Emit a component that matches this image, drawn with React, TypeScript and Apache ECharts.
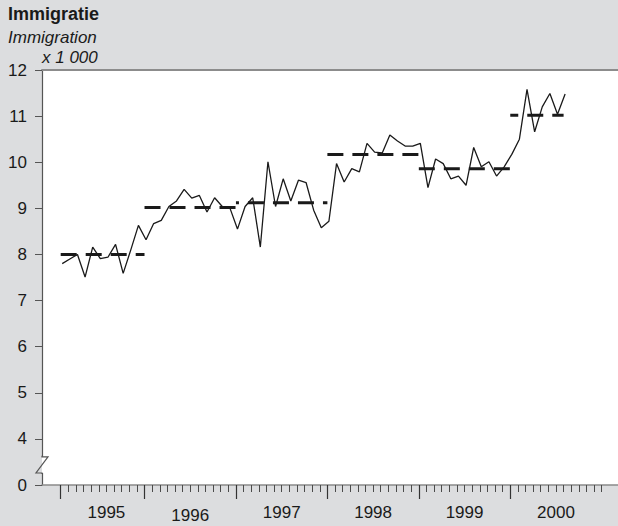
import React, { useEffect, useRef } from 'react';
import * as echarts from 'echarts';

const TITLE = 'Immigratie';
const SUBTITLE = 'Immigration';
const UNIT = 'x 1 000';

const YEARS = ['1995', '1996', '1997', '1998', '1999', '2000'];

// monthly immigration (x 1 000), Jan 1995 .. Jul 2000
const MONTHLY = [
  7.80, 7.90, 8.00, 7.51, 8.16, 7.91, 7.94, 8.22, 7.59, 8.10, 8.63, 8.32,
  8.67, 8.74, 9.04, 9.16, 9.41, 9.22, 9.28, 8.92, 9.23, 9.04, 9.01, 8.55,
  9.04, 9.23, 8.16, 10.01, 9.04, 9.64, 9.16, 9.61, 9.56, 8.96, 8.58, 8.72,
  9.97, 9.57, 9.86, 9.79, 10.41, 10.22, 10.20, 10.59, 10.46, 10.35, 10.35, 10.41,
  9.45, 10.07, 9.97, 9.64, 9.70, 9.50, 10.32, 9.90, 10.01, 9.70, 9.90, 10.17,
  10.50, 11.58, 10.66, 11.20, 11.49, 11.04, 11.48,
];

// yearly averages
const YEAR_MEANS = [8.0, 9.02, 9.12, 10.17, 9.86, 11.02];

// x axis in month units
const YEAR_TICKS = [0, 11, 23, 35, 47, 59];
const YEAR_LABEL_POS = [6, 17, 29, 41, 53, 65];
const LAST_MONTH = 66;
const MONTH_TICKS = Array.from({ length: 72 }, (_, i) => i);

// y axis (broken: the lowest tick stands for 0)
const Y_TICK_VALUES = [3, 4, 5, 6, 7, 8, 9, 10, 11, 12];
const Y_TICK_LABELS = ['0', '4', '5', '6', '7', '8', '9', '10', '11', '12'];

// layout / style
const W = 618;
const H = 526;
const GRID_LEFT = 42;
const GRID_TOP = 70;
const GRID_BOTTOM = 41;
const X_MIN = -2.454;
const X_MAX = 73.14;
const Y_MIN = 3;
const Y_MAX = 12;
const POINT_OFFSET = 0.2;
const DASH_OFFSETS = [0, 0, 13, 0, 0, 8];
const FONT = '"Liberation Sans", Arial, Helvetica, sans-serif';
const BG = '#dcdddf';
const INK = '#1a1a1a';
const AXIS = '#555555';

export default function App() {
  const ref = useRef<HTMLDivElement>(null);

  useEffect(() => {
    document.body.style.margin = '0';
    const chart = echarts.init(ref.current!, null, { renderer: 'svg' });

    const plotBottom = H - GRID_BOTTOM;
    const yPix = (v: number) => GRID_TOP + ((Y_MAX - v) / (Y_MAX - Y_MIN)) * (plotBottom - GRID_TOP);
    const bLow = yPix(3.26);
    const bHigh = yPix(3.61);

    const meanSeries = YEAR_MEANS.map((m, i) => ({
      type: 'line',
      xAxisIndex: 0,
      yAxisIndex: 0,
      symbol: 'none',
      silent: true,
      data: [
        [YEAR_TICKS[i], m],
        [i + 1 < YEAR_TICKS.length ? YEAR_TICKS[i + 1] : LAST_MONTH, m],
      ],
      lineStyle: { color: INK, width: 3, type: [16, 9], dashOffset: DASH_OFFSETS[i] },
      z: 3,
    }));

    const baseX = {
      type: 'value',
      min: X_MIN,
      max: X_MAX,
      gridIndex: 0,
      splitLine: { show: false },
    };

    chart.setOption({
      animation: false,
      backgroundColor: BG,
      grid: {
        left: GRID_LEFT,
        right: 0,
        top: GRID_TOP,
        bottom: GRID_BOTTOM,
        show: true,
        backgroundColor: '#ffffff',
        borderWidth: 0,
      },
      xAxis: [
        {
          ...baseX,
          position: 'bottom',
          axisLine: { show: true, onZero: false, lineStyle: { color: '#8a8a8a', width: 1.5 } },
          axisTick: {
            show: true,
            customValues: MONTH_TICKS,
            length: 7,
            lineStyle: { color: '#4a4a4a', width: 1 },
          },
          axisLabel: { show: false },
        },
        {
          ...baseX,
          position: 'bottom',
          offset: 0,
          axisLine: { show: false, onZero: false },
          axisTick: {
            show: true,
            customValues: YEAR_TICKS,
            length: 14,
            lineStyle: { color: '#333333', width: 1.2 },
          },
          axisLabel: {
            show: true,
            customValues: YEAR_LABEL_POS,
            margin: 19,
            color: INK,
            fontFamily: FONT,
            fontSize: 17,
            formatter: (v: number) => {
              const i = YEAR_LABEL_POS.indexOf(v);
              const label = i >= 0 ? YEARS[i] : '';
              return i === 1 ? `{low|${label}}` : `{n|${label}}`;
            },
            rich: {
              n: { fontFamily: FONT, fontSize: 17, color: INK },
              low: { fontFamily: FONT, fontSize: 17, color: INK, padding: [3, 0, 0, 0] },
            },
          },
        },
        {
          ...baseX,
          position: 'top',
          axisLine: { show: true, onZero: false, lineStyle: { color: '#8c8c8c', width: 2 } },
          axisTick: { show: false },
          axisLabel: { show: false },
        },
      ],
      yAxis: {
        type: 'value',
        min: Y_MIN,
        max: Y_MAX,
        interval: 1,
        position: 'left',
        axisLine: { show: true, onZero: false, lineStyle: { color: AXIS, width: 1.2 } },
        axisTick: { show: true, inside: false, length: 7, lineStyle: { color: AXIS } },
        splitLine: { show: false },
        axisLabel: {
          margin: 15,
          color: INK,
          fontFamily: FONT,
          fontSize: 17,
          formatter: (v: number) => {
            const i = Y_TICK_VALUES.indexOf(v);
            return i >= 0 ? Y_TICK_LABELS[i] : '';
          },
        },
      },
      graphic: [
        {
          type: 'text',
          left: 8,
          top: 5,
          style: { text: TITLE, font: `bold 18px ${FONT}`, fill: INK },
        },
        {
          type: 'text',
          left: 8,
          top: 29,
          style: { text: SUBTITLE, font: `italic 17px ${FONT}`, fill: INK },
        },
        {
          type: 'text',
          left: 42,
          top: 49,
          style: { text: UNIT, font: `italic 17px ${FONT}`, fill: INK },
        },
        {
          type: 'rect',
          shape: { x: GRID_LEFT - 2, y: bHigh, width: 2, height: bLow - bHigh },
          style: { fill: BG },
          z: 9,
        },
        {
          type: 'rect',
          shape: { x: GRID_LEFT, y: bHigh, width: 2, height: bLow - bHigh },
          style: { fill: '#ffffff' },
          z: 9,
        },
        {
          type: 'polyline',
          shape: {
            points: [
              [GRID_LEFT, bLow + 1],
              [GRID_LEFT, bLow],
              [GRID_LEFT - 6, bLow],
              [GRID_LEFT + 6, bHigh],
              [GRID_LEFT, bHigh],
              [GRID_LEFT, bHigh - 1],
            ],
          },
          style: { stroke: AXIS, lineWidth: 1.2, fill: null },
          z: 10,
        },
      ],
      series: [
        {
          type: 'line',
          xAxisIndex: 0,
          yAxisIndex: 0,
          symbol: 'none',
          silent: true,
          data: MONTHLY.map((v, k) => [k + POINT_OFFSET, v]),
          lineStyle: { color: INK, width: 1.3 },
          z: 4,
        },
        ...meanSeries,
      ],
    } as any);

    return () => chart.dispose();
  }, []);

  return (
    <div
      ref={ref}
      style={{ position: 'fixed', left: 0, top: 0, width: W, height: H }}
    />
  );
}
